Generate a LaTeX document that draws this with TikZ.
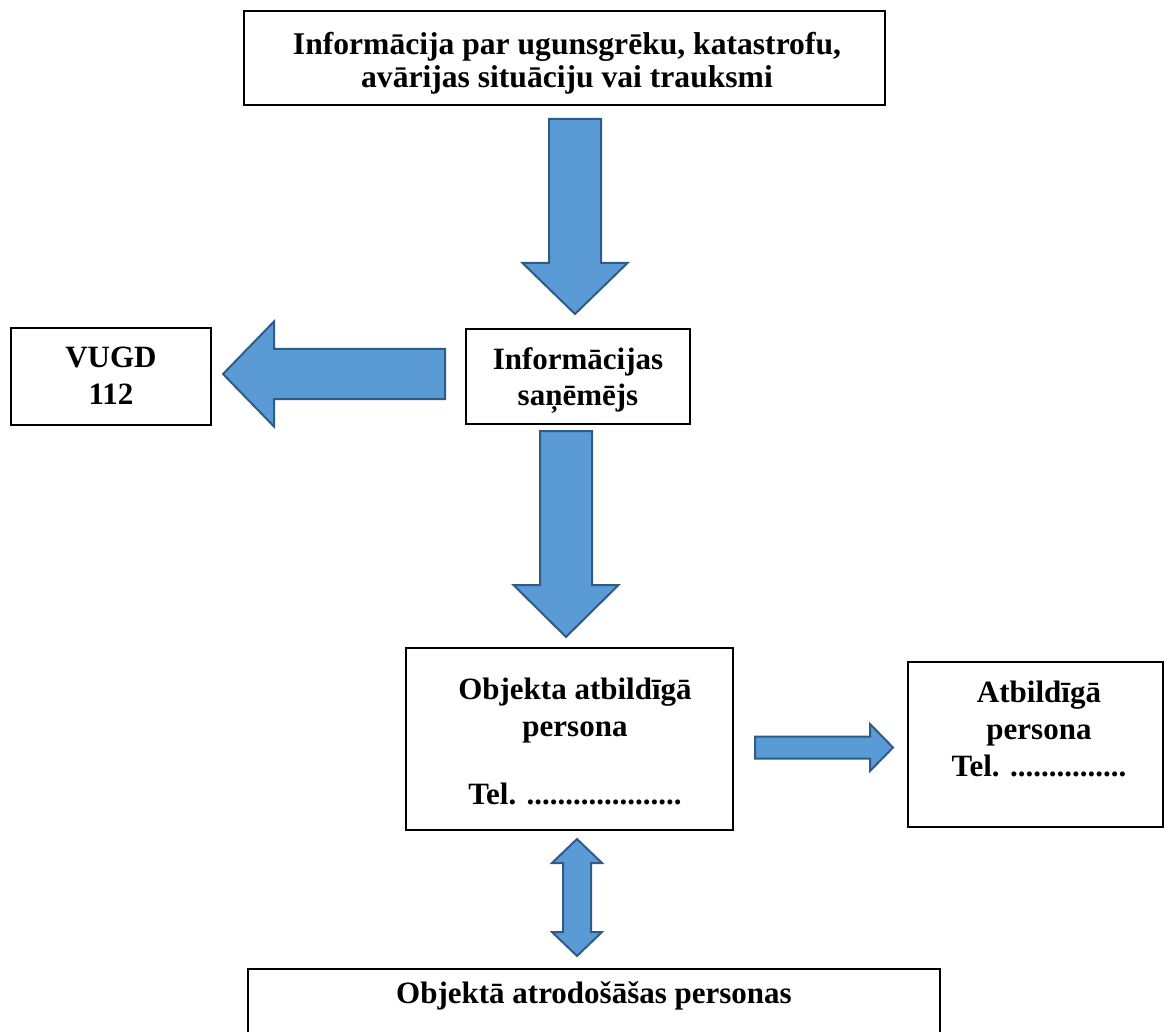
\documentclass[tikz,border=0pt]{standalone}
\usepackage{fontspec}
\setmainfont{Liberation Serif}
\usetikzlibrary{calc}
\definecolor{arrfill}{HTML}{5B9BD5}
\definecolor{arrline}{HTML}{2F5B88}
% block arrow: #1 tail, #2 tip, #3 shaft half width, #4 head half width, #5 head length
\newcommand{\blockarrow}[5]{%
  \coordinate (ba-h) at ($(#2)!#5!(#1)$);
  \draw[barrow] ($(#1)!#3!90:(#2)$) -- ($(ba-h)!#3!-90:(#1)$) -- ($(ba-h)!#4!-90:(#1)$)
    -- (#2) -- ($(ba-h)!#4!90:(#1)$) -- ($(ba-h)!#3!90:(#1)$) -- ($(#1)!#3!-90:(#2)$) -- cycle;
}
% double block arrow: #1 tip, #2 tip, #3 shaft half, #4 head half, #5 head length
\newcommand{\dblockarrow}[5]{%
  \coordinate (da-a) at ($(#1)!#5!(#2)$);
  \coordinate (da-b) at ($(#2)!#5!(#1)$);
  \draw[barrow] (#1) -- ($(da-a)!#4!90:(#2)$) -- ($(da-a)!#3!90:(#2)$) -- ($(da-b)!#3!-90:(#1)$)
    -- ($(da-b)!#4!-90:(#1)$) -- (#2) -- ($(da-b)!#4!90:(#1)$) -- ($(da-b)!#3!90:(#1)$)
    -- ($(da-a)!#3!-90:(#2)$) -- ($(da-a)!#4!-90:(#2)$) -- cycle;
}
\begin{document}
\begin{tikzpicture}[x=1pt,y=-1pt,
  box/.style={draw=black, line width=1.6pt, fill=white, inner sep=0pt},
  txt/.style={font=\bfseries\fontsize{31}{37}\selectfont, align=center, inner sep=0pt},
  barrow/.style={fill=arrfill, draw=arrline, line width=2pt, line join=miter}]
\clip (0,0) rectangle (1165,1032);
\fill[white] (0,0) rectangle (1165,1032);

% boxes
\node[box, minimum width=641pt, minimum height=94pt] (top) at (564.5,58) {};
\node[txt, font=\bfseries\fontsize{31.6}{33}\selectfont] (topt) at (567,63.5)
  {Informācija par ugunsgrēku, katastrofu,\\avārijas situāciju vai trauksmi};

\node[box, minimum width=200pt, minimum height=97pt] (vugd) at (111,376.5) {};
\node[txt] (vugdt) at (111,376) {VUGD\\112};

\node[box, minimum width=224pt, minimum height=95pt] (info) at (578,376.5) {};
\node[txt, font=\bfseries\fontsize{31}{36}\selectfont] (infot) at (578,380.5) {Informācijas\\saņēmējs};

\node[box, minimum width=327pt, minimum height=182pt] (obj) at (569.5,739) {};
\node[txt] (objt) at (575,741.5) {Objekta atbildīgā\\persona\\[31pt]Tel. ....................};

\node[box, minimum width=255pt, minimum height=165pt] (resp) at (1035.5,744.5) {};
\node[txt] (respt) at (1039,729) {Atbildīgā\\persona\\Tel. ...............};

\node[box, minimum width=692pt, minimum height=81pt] (people) at (594,1009.5) {};
\node[txt] (peoplet) at (594,996) {Objektā atrodošāšas personas};

% arrow end points
\coordinate (a1t) at (575,119);  \coordinate (a1p) at (575,314);
\coordinate (a2t) at (566,431);  \coordinate (a2p) at (566,637);
\coordinate (a3t) at (445,374);  \coordinate (a3p) at (223,374);
\coordinate (a4t) at (755,747.5);\coordinate (a4p) at (893,747.5);
\coordinate (a5a) at (577,839);  \coordinate (a5b) at (577,956);

\blockarrow{a1t}{a1p}{26pt}{52.5pt}{51pt}
\blockarrow{a2t}{a2p}{26pt}{52.5pt}{52pt}
\blockarrow{a3t}{a3p}{25pt}{52.5pt}{51pt}
\blockarrow{a4t}{a4p}{11pt}{23.5pt}{23pt}
\dblockarrow{a5a}{a5b}{14pt}{25pt}{24pt}
\end{tikzpicture}
\end{document}
